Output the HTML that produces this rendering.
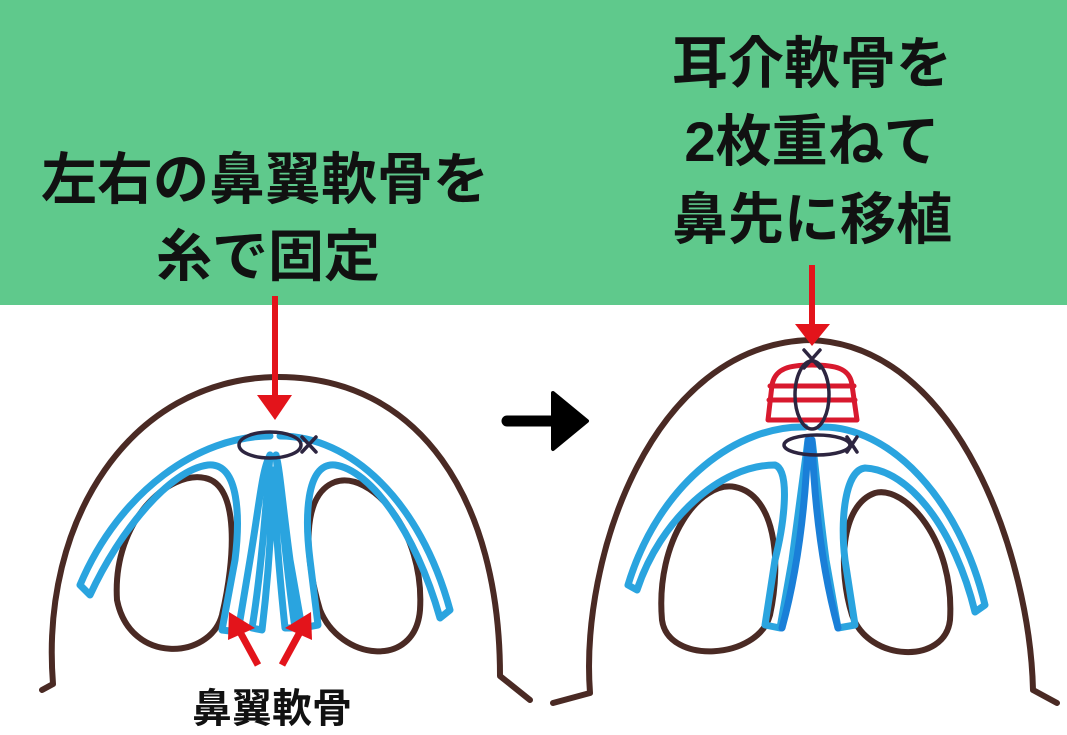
<!DOCTYPE html>
<html><head><meta charset="utf-8"><style>
html,body{margin:0;padding:0;background:#fff;width:1067px;height:735px;overflow:hidden}
svg{display:block}
text{font-family:"Liberation Sans","Noto Sans CJK JP",sans-serif;font-weight:bold;fill:#111}
</style></head><body>
<svg width="1067" height="735" viewBox="0 0 1067 735">
<rect x="0" y="0" width="1067" height="305" fill="#5fc98c"/>
<text x="265" y="199" font-size="56" text-anchor="middle">左右の鼻翼軟骨を</text>
<text x="268" y="276" font-size="56" text-anchor="middle">糸で固定</text>
<text x="812" y="83" font-size="56" text-anchor="middle">耳介軟骨を</text>
<text x="812" y="161" font-size="56" text-anchor="middle">2枚重ねて</text>
<text x="812" y="239" font-size="56" text-anchor="middle">鼻先に移植</text>

<!-- LEFT -->
<g fill="none" stroke-linecap="round" stroke-linejoin="round">
<path d="M42,690 L53,684 C40,520 130,380 275,377 C420,375 500,500 500,676 L530,700" stroke="#4a2a24" stroke-width="6"/>
<path d="M117,600 C112,520 170,470 205,478 C240,485 235,560 222,615 C210,660 130,665 117,600 Z" stroke="#4a2a24" stroke-width="6"/>
<path d="M420,610 C425,530 370,470 335,482 C300,495 305,560 320,610 C340,660 415,670 420,610 Z" stroke="#4a2a24" stroke-width="6"/>
<g stroke="#2aa4df" stroke-width="7">
<path d="M270,436 C200,436 120,490 80,585 L90,595 C120,530 170,470 208,465 C240,462 240,520 235,560 L222,630 L238,632 L250,560 C260,500 262,470 270,455"/>
<path d="M280,436 C350,436 420,500 450,610 L440,618 C415,530 370,470 335,465 C305,462 305,520 310,560 L318,625 L302,628 L290,560 C282,500 280,470 276,455"/>
<path d="M270,455 C265,520 260,580 252,628 L262,630 C268,580 272,520 273,470 C275,520 280,580 285,628 L295,628 C288,580 282,520 276,455"/>
</g>
<ellipse cx="270" cy="445" rx="31" ry="13" stroke="#2d2540" stroke-width="3.5"/>
<path d="M302,437 L316,452 M316,437 L302,452" stroke="#2d2540" stroke-width="3.5"/>
</g>
<line x1="275" y1="296" x2="275" y2="398" stroke="#e3141b" stroke-width="6"/>
<polygon points="257,395 292,395 275,420" fill="#e3141b"/>
<line x1="258" y1="665" x2="240" y2="632" stroke="#e3141b" stroke-width="7"/>
<polygon points="229,612 255,628 228,640" fill="#e3141b"/>
<line x1="282" y1="665" x2="300" y2="632" stroke="#e3141b" stroke-width="7"/>
<polygon points="311,612 285,628 312,640" fill="#e3141b"/>
<text x="272" y="722" font-size="40" text-anchor="middle">鼻翼軟骨</text>

<!-- black arrow -->
<line x1="507" y1="421" x2="560" y2="421" stroke="#000" stroke-width="11" stroke-linecap="round"/>
<polygon points="553,393 587,421 553,449" fill="#000" stroke="#000" stroke-width="4" stroke-linejoin="round"/>

<!-- RIGHT -->
<g fill="none" stroke-linecap="round" stroke-linejoin="round">
<path d="M553,703 L590,693 C580,560 650,345 810,340 C960,345 1030,560 1033,690 L1057,703" stroke="#4a2a24" stroke-width="6"/>
<path d="M662,620 C655,540 700,480 735,487 C775,495 782,560 770,615 C758,660 668,665 662,620 Z" stroke="#4a2a24" stroke-width="6"/>
<path d="M950,620 C955,540 905,485 875,493 C840,505 838,570 852,615 C868,662 945,665 950,620 Z" stroke="#4a2a24" stroke-width="6"/>
<g stroke="#2aa4df" stroke-width="7">
<path d="M805,427 C740,425 660,480 628,585 L637,590 C660,520 720,465 775,465 C790,470 785,520 775,560 L765,625 L780,628 L792,560 C800,500 805,460 808,440"/>
<path d="M820,427 C890,425 960,500 985,605 L975,612 C955,530 910,470 865,468 C845,470 840,520 845,560 L855,625 L838,628 L826,560 C818,500 815,460 812,440"/>
</g>
<g stroke="#1a7fd8" stroke-width="7">
<path d="M808,440 C805,520 795,580 782,628 M812,440 C815,520 825,580 838,628"/>
</g>
<ellipse cx="817" cy="445" rx="33" ry="10" stroke="#2d2540" stroke-width="3.5"/>
<path d="M847,437 L857,452 M857,437 L847,452" stroke="#2d2540" stroke-width="3.5"/>
<g stroke="#d8192e" stroke-width="5">
<path d="M768,420 L772,385 C775,368 790,365 812,365 C835,365 850,368 852,385 L857,420 Z"/>
<path d="M770,386 L854,386 M769,400 L855,400"/>
</g>
<ellipse cx="812" cy="395" rx="17" ry="34" stroke="#2d2540" stroke-width="3.5"/>
<path d="M804,350 L820,368 M820,350 L804,368" stroke="#2d2540" stroke-width="3.5"/>
</g>
<line x1="812" y1="265" x2="812" y2="328" stroke="#e3141b" stroke-width="6"/>
<polygon points="795,324 830,324 812,346" fill="#e3141b"/>
</svg>
</body></html>
